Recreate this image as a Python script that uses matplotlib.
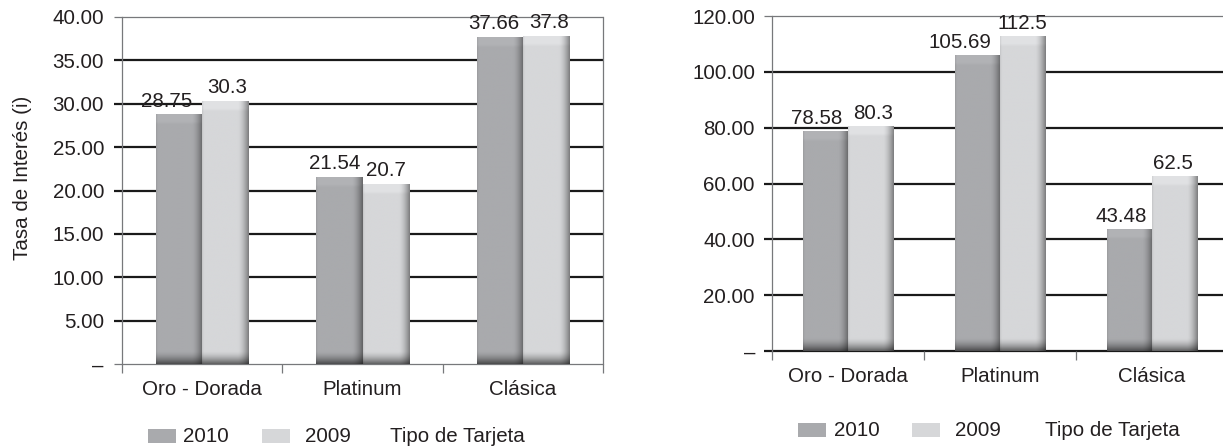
import numpy as np
import matplotlib
matplotlib.use("Agg")
import matplotlib.pyplot as plt
from matplotlib.patches import Rectangle
import matplotlib.transforms as mtransforms

plt.rcParams['font.family'] = ['Liberation Sans', 'DejaVu Sans']

# ---- data -------------------------------------------------------------
categories = ["Oro - Dorada", "Platinum", "Clásica"]
series_names = ["2010", "2009"]
legend_title = "Tipo de Tarjeta"

rate_2010 = [28.75, 21.54, 37.66]
rate_2009 = [30.3, 20.7, 37.8]

cost_2010 = [78.58, 105.69, 43.48]
cost_2009 = [80.3, 112.5, 62.5]

left_ticks = [0, 5, 10, 15, 20, 25, 30, 35, 40]
right_ticks = [0, 20, 40, 60, 80, 100, 120]
y_label = "Tasa de Interés (i)"

# ---- style ------------------------------------------------------------
W, H, DPI = 1223, 446, 100
FS = 14.8
TXT = "#231f20"
GRID = "#1a1a1a"
FRAME = "#77787b"
C2010 = np.array([0xa9, 0xaa, 0xad]) / 255
C2009 = np.array([0xd6, 0xd7, 0xd9]) / 255
PT = 72.0 / DPI  # points per pixel

fig = plt.figure(figsize=(W / DPI, H / DPI), dpi=DPI)
fig.patch.set_facecolor("white")


def px_axes(x0, x1, ytop, ybot):
    return fig.add_axes([x0 / W, (H - ybot) / H, (x1 - x0) / W, (ybot - ytop) / H])


def shaded_bar(ax, x0, x1, h, rgb, px_per_unit):
    nx, ny = 90, 400
    u = np.linspace(0, 1, nx)
    horiz = np.ones(nx)
    horiz *= np.where(u < 0.035, 0.92 + 0.08 * u / 0.035, 1.0)
    r = np.clip((u - 0.76) / 0.24, 0, 1)
    horiz *= 1 - 0.42 * r ** 1.7
    hp = h * px_per_unit
    d_top = np.linspace(0, hp, ny)
    d_bot = hp - d_top
    vert = np.ones(ny)
    vert += 0.05 * np.clip((10 - d_top) / 3, 0, 1)
    vert *= 1 - 0.55 * np.clip(1 - d_bot / 13, 0, 1) ** 1.6
    shade = vert[:, None] * horiz[None, :]
    img = np.clip(rgb[None, None, :] * shade[:, :, None], 0, 1)
    ax.imshow(img, extent=(x0, x1, 0, h), aspect="auto", origin="upper",
              zorder=2, interpolation="bilinear")


def draw_panel(ax, vals_a, vals_b, ticks, bar_w, label_dx, zero_dark,
               tick_pad_px):
    axw = ax.get_position().width * W
    axh = ax.get_position().height * H
    ymax = ticks[-1]
    ppu = axh / ymax
    n = len(categories)
    x = np.arange(n)

    # horizontal rules with outward tick stubs
    ytr = ax.get_yaxis_transform()
    stub = -8 / axw
    for t in ticks:
        if t == ymax or (t == 0 and not zero_dark):
            ax.plot([stub, 1], [t, t], color=FRAME, lw=0.9, transform=ytr,
                    clip_on=False, zorder=1, solid_capstyle="butt")
        else:
            ax.plot([stub, 1], [t, t], color=GRID, lw=1.6, transform=ytr,
                    clip_on=False, zorder=1, solid_capstyle="butt")

    for i in range(n):
        for j, (vals, rgb) in enumerate(((vals_a, C2010), (vals_b, C2009))):
            x0 = x[i] - bar_w if j == 0 else x[i]
            shaded_bar(ax, x0, x0 + bar_w, vals[i], rgb, ppu)
            xc = x0 + bar_w / 2
            ax.annotate(f"{vals[i]:g}", (xc, vals[i]),
                        xytext=(label_dx[j][i] * PT, 4 * PT),
                        textcoords="offset points", ha="center", va="bottom",
                        fontsize=FS, color=TXT, zorder=5)

    ax.set_xlim(-0.5, n - 0.5)
    ax.set_ylim(0, ymax)
    for s in ax.spines.values():
        s.set_visible(False)
    ax.spines["left"].set_visible(True)
    ax.spines["left"].set_color(FRAME)
    ax.spines["left"].set_linewidth(0.9)
    ax.spines["right"].set_visible(True)
    ax.spines["right"].set_color(FRAME)
    ax.spines["right"].set_linewidth(0.9)

    ax.set_yticks(ticks)
    ax.set_yticklabels(["–" if t == 0 else f"{t:.2f}" for t in ticks])
    ax.tick_params(axis="y", length=0, pad=tick_pad_px * PT,
                   labelsize=FS, labelcolor=TXT)

    ax.set_xticks(x)
    ax.set_xticklabels(categories)
    ax.tick_params(axis="x", which="major", length=0, labelsize=FS,
                   labelcolor=TXT, pad=16 * PT)
    ax.set_xticks(np.arange(n + 1) - 0.5, minor=True)
    ax.tick_params(axis="x", which="minor", length=9 * PT, width=0.9,
                   color=FRAME, direction="out")
    ax.set_facecolor("none")


def legend_row(y_px, patch_x, text_x, title_x):
    colors = [C2010, C2009]
    for k in range(2):
        fig.patches.append(Rectangle((patch_x[k] / W, (H - y_px - 7) / H),
                                     28 / W, 14 / H, transform=fig.transFigure,
                                     facecolor=colors[k], edgecolor="none"))
        fig.text(text_x[k] / W, (H - y_px) / H, series_names[k], fontsize=FS,
                 color=TXT, va="center", ha="left")
    fig.text(title_x / W, (H - y_px) / H, legend_title, fontsize=FS,
             color=TXT, va="center", ha="left")


# left panel: interest rate
ax1 = px_axes(122, 603, 17, 364)
draw_panel(ax1, rate_2010, rate_2009, left_ticks, 0.287,
           [[-13, -5, -6], [2, 0, 3]], zero_dark=False, tick_pad_px=18)
fig.text(22 / W, (H - 178) / H, y_label, rotation=90, fontsize=FS,
         color=TXT, ha="center", va="center")
legend_row(436, [148, 262], [183, 305], 390)

# right panel
ax2 = px_axes(772, 1228, 16, 351)
draw_panel(ax2, cost_2010, cost_2009, right_ticks, 0.298,
           [[-9, -17, -8], [2, 0, -2]], zero_dark=True, tick_pad_px=17)
legend_row(430, [798, 912], [834, 955], 1045)

fig.savefig("out.png", dpi=DPI, facecolor="white")
